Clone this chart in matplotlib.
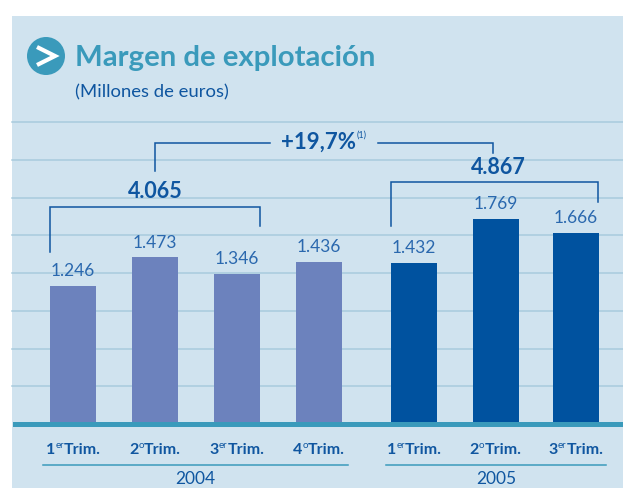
import matplotlib
matplotlib.use('Agg')
import matplotlib.pyplot as plt
from matplotlib.patches import Circle, Rectangle

# heights (the original bars are not quite to scale)
bar_heights = [1225, 1486, 1333, 1441, 1432, 1829, 1703]
value_labels = ['1.246', '1.473', '1.346', '1.436', '1.432', '1.769', '1.666']
quarter_nums = ['1', '2', '3', '4', '1', '2', '3']
quarter_sups = ['er', 'o', 'er', 'o', 'er', 'o', 'er']
years = ['2004', '2005']
year_totals = ['4.065', '4.867']

W, H = 623, 488
BG = '#D0E3EF'
GRID = '#A8CBDE'
TEAL = '#3A9ABB'
BLUE = '#0F56A0'
DARK = '#00529F'
LIGHT = '#6C82BD'
FONT = 'Lato'

bar_x = [73, 155, 237, 319, 414, 496, 576]
bar_colors = [LIGHT] * 4 + [DARK] * 3
base_y = 422
px_per_unit = 0.111

fig = plt.figure(figsize=(W / 100, H / 100), dpi=100)
ax = fig.add_axes([0, 0, 1, 1])
ax.set_xlim(0, W)
ax.set_ylim(H, 0)
ax.axis('off')
ax.add_patch(Rectangle((12, 16), W - 12, H - 16, color=BG, lw=0, zorder=0))

for k in range(8):
    y = 122 + k * 37.75
    ax.plot([12, W], [y, y], color=GRID, lw=1.1, zorder=1)

# bars live in their own axes, baseline at the bottom
ax_bar = fig.add_axes([0, 1 - base_y / H, 1, (base_y - 16) / H])
ax_bar.set_xlim(0, W)
ax_bar.set_ylim(0, (base_y - 16) / px_per_unit)
ax_bar.axis('off')
ax_bar.patch.set_alpha(0)
ax_bar.bar(bar_x, bar_heights, width=46, color=bar_colors, zorder=2)

ax.add_patch(Rectangle((12.5, base_y), W, 4.5, color=TEAL, lw=0, zorder=3))

# title block
ax.add_patch(Circle((46, 56), 19, color=TEAL, lw=0, zorder=3))
ax.plot([37, 55, 37], [47, 56, 65], color='white', lw=3, zorder=4,
        solid_joinstyle='miter', solid_capstyle='butt')
ax.text(75, 58, 'Margen de explotación', color=TEAL, fontsize=21.2,
        family=FONT, weight='bold', va='center', ha='left')
ax.text(75, 92, '(Millones de euros)', color=BLUE, fontsize=13.3, family=FONT,
        va='center', ha='left')

# values over the bars
label_y = [271, 243, 259, 247, 248, 204, 218]
for x, y, s in zip(bar_x, label_y, value_labels):
    ax.text(x, y, s, color='#2A68AE', fontsize=12.5, family=FONT,
            ha='center', va='center')

# brackets
line_kw = dict(color=BLUE, lw=1.1, zorder=4, solid_joinstyle='miter')
ax.plot([50, 50, 260, 260], [252, 207, 207, 226], **line_kw)
ax.plot([391, 391, 598, 598], [226, 182, 182, 202], **line_kw)
ax.plot([155, 155, 270], [171, 143, 143], **line_kw)
ax.plot([378, 493, 493], [143, 143, 153], **line_kw)

total_kw = dict(color=BLUE, fontsize=15.5, family=FONT, weight='bold',
                ha='center', va='center')
ax.text(155, 192, year_totals[0], **total_kw)
ax.text(498, 167, year_totals[1], **total_kw)
ax.text(281, 142, '+19,7%', color=BLUE, fontsize=16, family=FONT, weight='bold',
        ha='left', va='center')
ax.text(357, 135, '(1)', color=BLUE, fontsize=6.5, family=FONT, ha='left', va='center')

# quarter labels: number, superscript, "Trim."
fig.canvas.draw()
rend = fig.canvas.get_renderer()
tick_centers = [73.5, 155, 237, 319, 414.5, 495.5, 576]
for cx, num, sup in zip(tick_centers, quarter_nums, quarter_sups):
    parts = [ax.text(0, 450, num, fontsize=11.5, family=FONT, weight='bold', color=BLUE,
                     va='center', ha='left'),
             ax.text(0, 446, sup, fontsize=7, family=FONT, color=BLUE,
                     va='center', ha='left'),
             ax.text(0, 450, 'Trim.', fontsize=11.5, family=FONT, weight='bold', color=BLUE,
                     va='center', ha='left')]
    widths = [p.get_window_extent(rend).width for p in parts]
    x = cx - sum(widths) / 2
    for p, w in zip(parts, widths):
        p.set_x(x)
        x += w

for x0, x1, year in zip([43, 386], [348, 606], years):
    ax.plot([x0, x1], [465, 465], color=TEAL, lw=1.1, zorder=3)
    ax.text((x0 + x1) / 2, 479, year, color=BLUE,
            fontsize=12.5, family=FONT, ha='center', va='center')

fig.savefig('out.png', dpi=100)
